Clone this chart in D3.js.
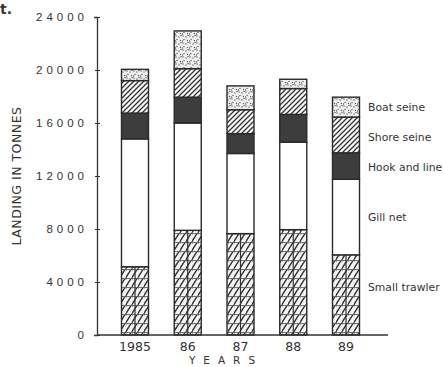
<!DOCTYPE html>
<html>
<head>
<meta charset="utf-8">
<script src="https://cdn.jsdelivr.net/npm/d3@7"></script>
<style>
  body { margin: 0; background: #fff; }
  svg { display: block; font-family: "DejaVu Sans", sans-serif; }
</style>
</head>
<body>
<svg id="chart" width="444" height="367"></svg>
<script>
// landings by gear, tonnes
var years = ["1985", "86", "87", "88", "89"];
var gears = ["Small trawler", "Gill net", "Hook and line", "Shore seine", "Boat seine"];
var smallTrawler = [5150, 7900, 7650, 7950, 6050];
var gillNet      = [9650, 8100, 6050, 6600, 5700];
var hookLine     = [1950, 1950, 1500, 2100, 2000];
var shoreSeine   = [2450, 2150, 1800, 1950, 2700];
var boatSeine    = [850, 2850, 1800, 700, 1500];
var yTicks = [0, 4000, 8000, 12000, 16000, 20000, 24000];

var svg = d3.select("#chart");

// patterns that mimic the printed fills
var defs = svg.append("defs");

var dots = defs.append("pattern").attr("id", "dots")
  .attr("patternUnits", "userSpaceOnUse").attr("width", 7).attr("height", 7);
dots.append("rect").attr("width", 7).attr("height", 7).attr("fill", "#f1f1f1");
[[1, 1], [4, 2], [2, 4.5], [5.5, 5.5], [0.5, 6], [6, 0.5]].forEach(function(p) {
  dots.append("circle").attr("cx", p[0]).attr("cy", p[1]).attr("r", 0.7).attr("fill", "#555");
});

var hatch = defs.append("pattern").attr("id", "hatch")
  .attr("patternUnits", "userSpaceOnUse").attr("width", 5).attr("height", 5);
hatch.append("rect").attr("width", 5).attr("height", 5).attr("fill", "#fafafa");
hatch.append("path").attr("d", "M-1,1 l2,-2 M0,5 l5,-5 M4,6 l2,-2")
  .attr("stroke", "#333").attr("stroke-width", 1.3);

var brick = defs.append("pattern").attr("id", "brick")
  .attr("patternUnits", "userSpaceOnUse").attr("width", 6).attr("height", 9);
brick.append("rect").attr("width", 6).attr("height", 9).attr("fill", "#f4f4f4");
brick.append("path").attr("d", "M-1,9 L5,-0.5 M5,9.5 L7,6.5 M-1,1.5 L0,0")
  .attr("stroke", "#333").attr("stroke-width", 1.4);
brick.append("path").attr("d", "M0,8.5 H6").attr("stroke", "#555").attr("stroke-width", 0.8);

var fills = {
  "Small trawler": "url(#brick)",
  "Gill net": "#fff",
  "Hook and line": "#3d3d3d",
  "Shore seine": "url(#hatch)",
  "Boat seine": "url(#dots)"
};

var series = [smallTrawler, gillNet, hookLine, shoreSeine, boatSeine];
var table = years.map(function(yr, i) {
  var row = { year: yr };
  gears.forEach(function(g, k) { row[g] = series[k][i]; });
  return row;
});
var stacked = d3.stack().keys(gears)(table);

var x = d3.scalePoint().domain(years).range([135, 346]);
var y = d3.scaleLinear().domain([0, 24000]).range([335, 17]);
var bw = 27;

// bars
var layer = svg.selectAll("g.layer").data(stacked).enter().append("g")
  .attr("class", "layer")
  .attr("fill", function(d) { return fills[d.key]; });

layer.selectAll("rect").data(function(d) { return d; }).enter().append("rect")
  .attr("x", function(d) { return x(d.data.year) - bw / 2; })
  .attr("y", function(d) { return y(d[1]); })
  .attr("width", bw)
  .attr("height", function(d) { return y(d[0]) - y(d[1]); })
  .attr("stroke", "#2a2a2a")
  .attr("stroke-width", 1.4);

// split line down the small trawler block
svg.selectAll("line.split").data(stacked[0]).enter().append("line")
  .attr("class", "split")
  .attr("x1", function(d) { return x(d.data.year); })
  .attr("x2", function(d) { return x(d.data.year); })
  .attr("y1", function(d) { return y(d[0]); })
  .attr("y2", function(d) { return y(d[1]); })
  .attr("stroke", "#333").attr("stroke-width", 1.2);

// y axis
var yAxis = svg.append("g").attr("transform", "translate(97,0)")
  .call(d3.axisLeft(y).tickValues(yTicks).tickSize(3).tickPadding(6).tickFormat(d3.format("d")));
yAxis.select(".domain").attr("stroke", "#333").attr("stroke-width", 1.3);
yAxis.selectAll(".tick line").attr("x2", 3).attr("x1", -2).attr("stroke", "#333");
yAxis.selectAll(".tick text")
  .attr("font-size", 11.5).attr("fill", "#333").attr("letter-spacing", "4px");

// x axis baseline
svg.append("line")
  .attr("x1", 97).attr("x2", 388)
  .attr("y1", y(0)).attr("y2", y(0))
  .attr("stroke", "#333").attr("stroke-width", 1.3);

svg.selectAll("text.year").data(years).enter().append("text")
  .attr("class", "year")
  .attr("x", function(d) { return x(d); })
  .attr("y", 351)
  .attr("text-anchor", "middle")
  .attr("font-size", 12.5).attr("fill", "#333")
  .text(function(d) { return d; });

svg.append("text")
  .attr("x", 226).attr("y", 364)
  .attr("text-anchor", "middle")
  .attr("font-size", 10.5).attr("fill", "#333").attr("letter-spacing", "8px")
  .text("YEARS");

svg.append("text")
  .attr("transform", "translate(21,176) rotate(-90)")
  .attr("text-anchor", "middle")
  .attr("font-size", 12.5).attr("fill", "#333").attr("letter-spacing", "0.5px")
  .text("LANDING IN TONNES");

// leftover fragment in the scan corner
svg.append("text").attr("x", 0).attr("y", 14)
  .attr("font-size", 14).attr("font-weight", "bold").attr("fill", "#333").text("t.");

// the last bar doubles as the legend
var last = years.length - 1;
var nudge = [-8, 0, 1, 2, 0];
svg.selectAll("text.lab").data(stacked).enter().append("text")
  .attr("class", "lab")
  .attr("x", 368)
  .attr("y", function(d, i) { return (y(d[last][0]) + y(d[last][1])) / 2 + nudge[i]; })
  .attr("dy", "0.35em")
  .attr("font-size", 10.8).attr("fill", "#333")
  .text(function(d) { return d.key; });
</script>
</body>
</html>
